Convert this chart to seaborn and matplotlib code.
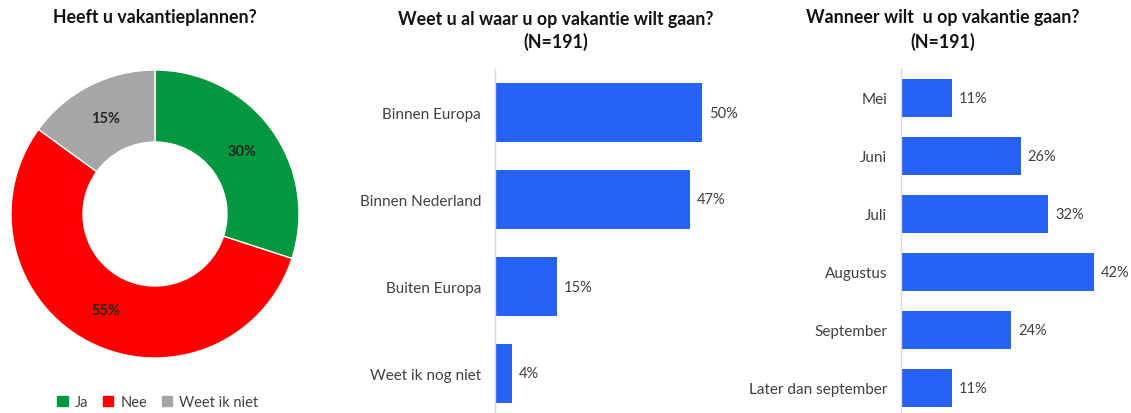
import matplotlib
matplotlib.use("Agg")
import matplotlib.pyplot as plt
import seaborn as sns
from matplotlib.patches import Patch

# data
plan_labels = ["Ja", "Nee", "Weet ik niet"]
plan_values = [30, 55, 15]
plan_colors = ["#03973F", "#FF0000", "#A6A6A6"]

waar_cats = ["Binnen Europa", "Binnen Nederland", "Buiten Europa", "Weet ik nog niet"]
waar_vals = [50, 47, 15, 4]

wanneer_cats = ["Mei", "Juni", "Juli", "Augustus", "September", "Later dan september"]
wanneer_vals = [11, 26, 32, 42, 24, 11]

bar_color = "#2463F6"

sns.set_theme(style="white")
plt.rcParams["font.family"] = ["Lato", "DejaVu Sans"]

W, H = 1131, 414
fig = plt.figure(figsize=(W / 100, H / 100), dpi=100)


def box(x0, y0, x1, y1):
    # pixel box (top-left origin) -> figure fraction
    return [x0 / W, 1 - y1 / H, (x1 - x0) / W, (y1 - y0) / H]


title_kw = dict(ha="center", va="center", fontsize=12.8, fontweight="bold", color="#111111")

# donut
ax1 = fig.add_axes(box(11, 71, 299, 359))
wedges, _, autotexts = ax1.pie(
    plan_values, colors=plan_colors, startangle=90, counterclock=False,
    autopct="%d%%", pctdistance=0.75,
    wedgeprops=dict(width=0.5, edgecolor="white", linewidth=1),
    textprops=dict(fontsize=10.5, fontweight="bold", color="#262626"),
)
ax1.set_xlim(-1, 1)
ax1.set_ylim(-1, 1)
ax1.set_aspect("auto")
fig.text(155 / W, 1 - 18 / H, "Heeft u vakantieplannen?", **title_kw)
handles = [Patch(color=c, label=l) for c, l in zip(plan_colors, plan_labels)]
fig.legend(handles=handles, loc="center", bbox_to_anchor=(158 / W, 1 - 403 / H),
           ncol=3, frameon=False, fontsize=10.5, handlelength=0.7, handleheight=0.7,
           handletextpad=0.5, columnspacing=1.0, labelcolor="#404040")


def hbar(ax, cats, vals, width, xmax, span):
    sns.barplot(x=vals, y=cats, color=bar_color, saturation=1, width=width,
                orient="h", ax=ax, linewidth=0)
    ax.set_xlim(0, xmax)
    ax.set_ylim(span - 0.5, -0.5)
    for c in ax.containers:
        ax.bar_label(c, fmt="%d%%", padding=5, fontsize=10.5, color="#404040")
    ax.set_xlabel("")
    ax.set_ylabel("")
    ax.set_xticks([])
    ax.tick_params(axis="y", length=0, pad=10, labelsize=11, labelcolor="#404040")
    for s in ["top", "right", "bottom"]:
        ax.spines[s].set_visible(False)
    ax.spines["left"].set_color("#D9D9D9")
    ax.spines["left"].set_linewidth(1)


ax2 = fig.add_axes(box(495, 70, 760, 414))
hbar(ax2, waar_cats, waar_vals, 0.667, 265 / 4.14, 344 / 87)
fig.text(556 / W, 1 - 19 / H, "Weet u al waar u op vakantie wilt gaan?", **title_kw)
fig.text(556 / W, 1 - 42 / H, "(N=191)", **title_kw)

ax3 = fig.add_axes(box(901, 70, 1131, 414))
hbar(ax3, wanneer_cats, wanneer_vals, 0.655, 230 / 4.6, 344 / 58)
fig.text(943 / W, 1 - 18 / H, "Wanneer wilt  u op vakantie gaan?", **title_kw)
fig.text(943 / W, 1 - 42 / H, "(N=191)", **title_kw)

fig.savefig("out.png", dpi=100)
